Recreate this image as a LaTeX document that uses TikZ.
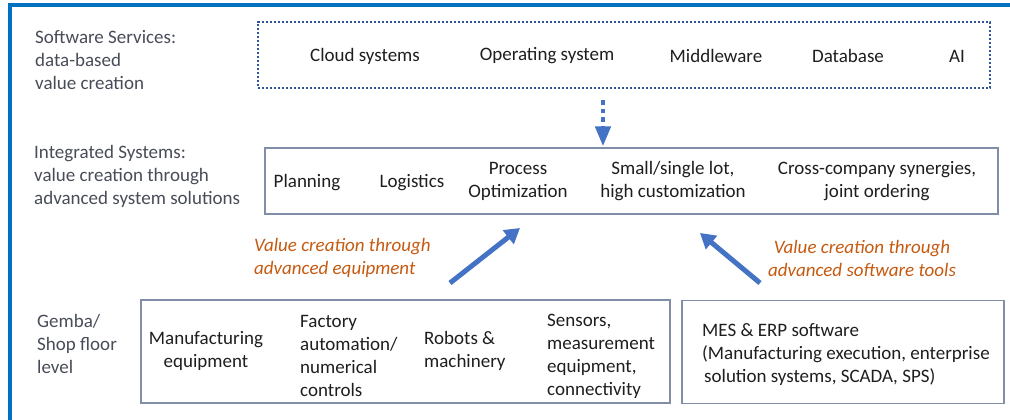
\documentclass[tikz,border=0pt]{standalone}
\usepackage{fontspec}
\setmainfont{Carlito}
\usetikzlibrary{arrows.meta}
\usetikzlibrary{positioning}
\definecolor{frameblue}{RGB}{0,112,192}
\definecolor{navy}{RGB}{47,85,151}
\definecolor{boxgray}{RGB}{128,142,168}
\definecolor{arrowblue}{RGB}{68,114,196}
\definecolor{noteorange}{RGB}{197,90,17}
\definecolor{textgray}{RGB}{30,30,30}
\definecolor{labelgray}{RGB}{72,76,88}
\tikzset{
    Box/.style = {draw=boxgray, line width=1.2pt, inner sep=0pt}
}
\tikzset{
    Arrow/.style = {draw=arrowblue, line width=5pt, -{Triangle[length=15pt,width=17pt]}}
}

\begin{document}
\begin{tikzpicture}[
    x=1pt, y=-1pt,
    font=\fontsize{19}{23}\selectfont,
    text=textgray
]
\tikzset{
    Level/.style = {anchor=west, align=left, text=labelgray, inner sep=0pt},
    Item/.style = {align=center, inner sep=0pt},
    Note/.style = {align=left, inner sep=0pt, text=noteorange, font=\fontsize{19}{23}\selectfont\itshape},
}
\useasboundingbox (0,0) rectangle (1010,420);

% slide frame
\draw[frameblue, line width=3.5pt] (10,420) -- (10,5) -- (1010,5);

% level labels
\node[Level] at (35,60) (lsoft) {Software Services:\\data-based\\value creation};
\node[Level] at (34,176) (linteg) {Integrated Systems:\\value creation through\\advanced system solutions};
\node[Level] at (37,344) (lgemba) {Gemba/\\Shop floor\\level};

% boxes
\node[Box, draw=navy, line width=2.4pt, dash pattern=on 2.2pt off 1.8pt, minimum width=732pt, minimum height=66pt] at (624,55) (soft) {};
\node[Box, minimum width=733pt, minimum height=66pt] at (631.5,181) (integ) {};
\node[Box, minimum width=529pt, minimum height=103pt] at (405.5,351.5) (gemba) {};
\node[Box, minimum width=322pt, minimum height=103pt] at (843,352) (mes) {};

% software services
\node[Item] at (365,56) (cloud) {Cloud systems};
\node[Item] at (547,56) (os) {Operating system};
\node[Item] at (716,56) (mw) {Middleware};
\node[Item] at (848,56) (db) {Database};
\node[Item] at (957,56) (ai) {AI};

% integrated systems
\node[Item] at (307,183) (plan) {Planning};
\node[Item] at (412,183) (logi) {Logistics};
\node[Item] at (518,181) (proc) {Process\\Optimization};
\node[Item] at (673,181) (lot) {Small/single lot,\\high customization};
\node[Item] at (877,181) (cross) {Cross-company synergies,\\joint ordering};

% shop floor
\node[Item] at (206,351) (manu) {Manufacturing\\equipment};
\node[Level, text=textgray] at (300,356) (fact) {Factory\\automation/\\numerical\\controls};
\node[Level, text=textgray] at (424,351) (robo) {Robots \&\\machinery};
\node[Level, text=textgray] at (547,356) (sens) {Sensors,\\measurement\\equipment,\\connectivity};
\node[Level, text=textgray] at (702,355) (soft2) {MES \& ERP software\\(Manufacturing execution, enterprise\\\hspace{2pt}solution systems, SCADA, SPS)};

% value creation notes
\node[Note, anchor=west] at (254,258) (neq) {Value creation through\\advanced equipment};
\node[Item, Note, align=center] at (862,258) (nsw) {Value creation through\\advanced software tools};

% arrows
\coordinate (dtop) at (603,100);
\coordinate (eqtail) at (450,283);
\coordinate (eqhead) at (520,228);
\coordinate (swtail) at (760,283);
\coordinate (swhead) at (700,233);
\path (dtop) edge [draw=arrowblue, line width=4.5pt, dash pattern=on 4.5pt off 4pt,
    -{Triangle[length=20pt,width=15pt]}, shorten >=1pt] (integ.north -| dtop);
\path (eqtail) edge [Arrow] (eqhead);
\path (swtail) edge [Arrow] (swhead);
\end{tikzpicture}
\end{document}
